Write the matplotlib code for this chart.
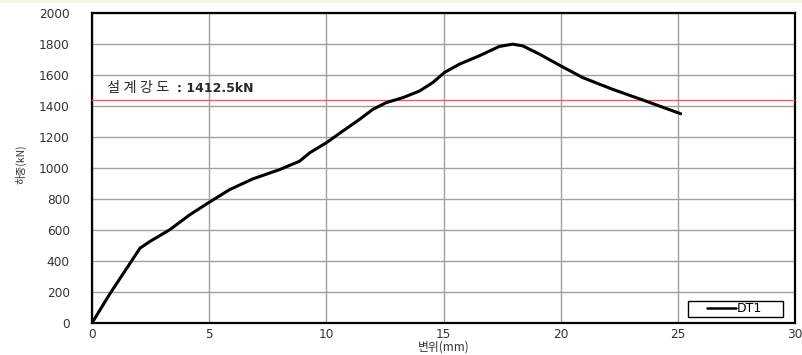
import matplotlib
matplotlib.use("Agg")
import matplotlib.pyplot as plt
from matplotlib.patches import Rectangle

# Data
disp = [0.0, 0.77, 2.05, 2.47, 3.32, 4.18, 4.96, 5.88, 6.87, 8.01, 8.86, 9.29, 10.0,
        10.7, 11.42, 11.99, 12.56, 13.27, 13.98, 14.54, 15.04, 15.68, 16.53, 17.38,
        17.95, 18.38, 19.09, 19.94, 20.93, 22.21, 23.63, 25.12]
load = [0, 190, 483, 526, 602, 699, 775, 861, 930, 990, 1044, 1098, 1163,
        1238, 1314, 1379, 1422, 1454, 1497, 1551, 1616, 1670, 1724, 1784,
        1799, 1788, 1735, 1664, 1584, 1508, 1432, 1350]
series_name = "DT1"
design_word = "설 계 강 도"
design_value = ": 1412.5kN"
design_line_level = 1437
x_ticks = [0, 5, 10, 15, 20, 25, 30]
y_ticks = [0, 200, 400, 600, 800, 1000, 1200, 1400, 1600, 1800, 2000]

plt.rcParams['font.family'] = ['Noto Sans CJK KR', 'DejaVu Sans']

W, H = 802, 355
fig = plt.figure(figsize=(W / 100, H / 100), dpi=100)
fig.patch.set_facecolor('white')
fig.patches.append(Rectangle((0, 1 - 3 / H), 1, 3 / H, transform=fig.transFigure,
                             facecolor='#f6f6e2', edgecolor='none', zorder=0))
ax = fig.add_axes([92 / W, 32 / H, 703 / W, 310 / H])

ax.plot(disp, load, color='black', lw=2.2, label=series_name,
        solid_joinstyle='round', solid_capstyle='round', zorder=4)
ax.axhline(design_line_level, color='#e06060', lw=0.9, zorder=3)

# design strength annotation
fig.text(107 / W, 1 - 88 / H, design_word, fontsize=10.3, color='#2a2a2a',
         ha='left', va='center')
fig.text(177 / W, 1 - 88 / H, design_value, fontsize=9, fontweight='bold',
         color='#2a2a2a', ha='left', va='center', family='DejaVu Sans')

ax.set_xlim(0, 30)
ax.set_ylim(0, 2000)
ax.set_xticks(x_ticks)
ax.set_yticks(y_ticks)
ax.grid(True, color='#a0a0a0', lw=1.0)
ax.set_axisbelow(True)
for s in ax.spines.values():
    s.set_color('black')
    s.set_linewidth(1.6)
ax.tick_params(length=0, labelsize=8.7, colors='#333333')
ax.tick_params(axis='x', pad=3.5)
ax.tick_params(axis='y', pad=16)
for lab in ax.get_xticklabels() + ax.get_yticklabels():
    lab.set_family('DejaVu Sans')

fig.text(444 / W, 1 / H, '변위(mm)', fontsize=8.5, color='#333333',
         ha='center', va='bottom')
fig.text(21 / W, 1 - 164 / H, '하중(kN)', fontsize=7.5, color='#333333',
         ha='center', va='center', rotation=90)

# legend box (drawn inside the axes so the legend can sit above it)
ax.add_patch(Rectangle((688 / W, 1 - 317 / H), 95 / W, 16 / H,
                       transform=fig.transFigure, facecolor='white',
                       edgecolor='black', lw=1.0, zorder=5, clip_on=False))
leg = ax.legend(loc='center left', bbox_to_anchor=((707 - 92) / 703, (323 - 309) / 310),
                fontsize=9, frameon=False, handlelength=2.3, handletextpad=0.05,
                borderpad=0.0, borderaxespad=0.0)
leg.set_zorder(6)
for t in leg.get_texts():
    t.set_family('DejaVu Sans')
for l in leg.get_lines():
    l.set_linewidth(1.8)

fig.savefig('out.png', dpi=100)
